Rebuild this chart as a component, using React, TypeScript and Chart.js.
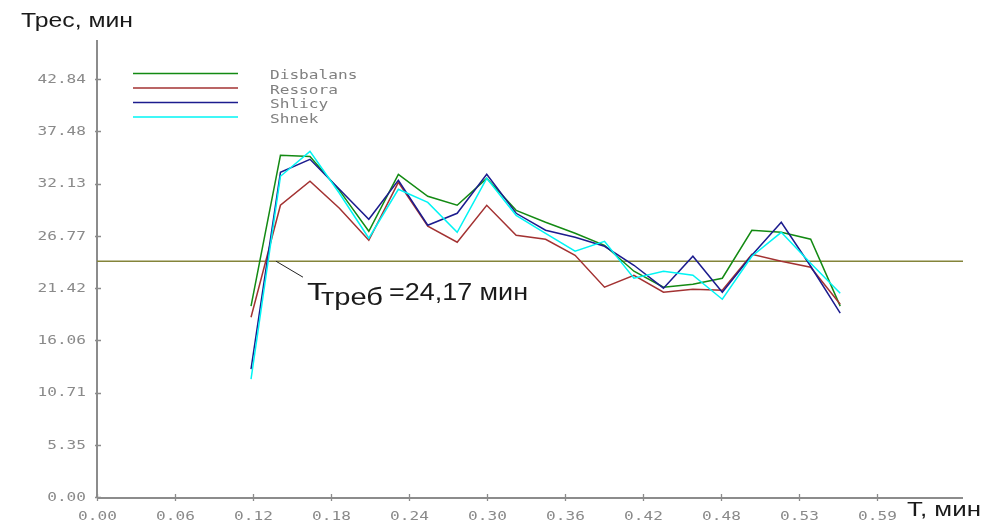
import React, { useEffect, useRef } from 'react';
import { Chart, registerables } from 'chart.js';

Chart.register(...registerables);

const seriesNames = ['Disbalans', 'Ressora', 'Shlicy', 'Shnek'];
const seriesColors = ['#138a13', '#a33232', '#1c1c8e', '#00f4f4'];

const timePoints = [
  0.1173, 0.1397, 0.1622, 0.1846, 0.207, 0.2295, 0.2519, 0.2743, 0.2968, 0.3192, 0.3416,
  0.3641, 0.3865, 0.4089, 0.4314, 0.4538, 0.4762, 0.4987, 0.5211, 0.5435, 0.566,
];

const disbalans = [
  19.56, 35.02, 34.91, 31.43, 27.24, 33.07, 30.82, 29.9, 32.66, 29.38, 28.16,
  27.03, 25.8, 23.14, 21.5, 21.81, 22.42, 27.34, 27.13, 26.42, 19.56,
];
const ressora = [
  18.43, 29.9, 32.36, 29.59, 26.31, 32.25, 27.75, 26.11, 29.9, 26.83, 26.42,
  24.78, 21.5, 22.73, 20.99, 21.3, 21.19, 24.88, 24.16, 23.55, 19.76,
];
const shlicy = [
  13.11, 33.28, 34.61, 31.54, 28.46, 32.46, 27.85, 29.08, 33.07, 29.08, 27.34,
  26.62, 25.7, 23.75, 21.4, 24.68, 20.99, 24.78, 28.16, 23.65, 18.84,
];
const shnek = [
  12.08, 32.87, 35.43, 31.13, 26.52, 31.54, 30.2, 27.13, 32.66, 28.87, 27.03,
  25.19, 26.21, 22.42, 23.14, 22.73, 20.27, 24.68, 27.13, 23.96, 20.89,
];
const seriesValues = [disbalans, ressora, shlicy, shnek];

const yTickValues = [0, 5.35, 10.71, 16.06, 21.42, 26.77, 32.13, 37.48, 42.84];
const yTickLabels = ['0.00', '5.35', '10.71', '16.06', '21.42', '26.77', '32.13', '37.48', '42.84'];
const xTickStep = 0.0594;
const xTickLabels = ['0.00', '0.06', '0.12', '0.18', '0.24', '0.30', '0.36', '0.42', '0.48', '0.53', '0.59'];
const xAxisMax = 0.6595;
const yAxisMax = 46.84;

const requiredTime = 24.17;
const requiredMain = 'T';
const requiredSub = 'треб';
const requiredRest = '=24,17 мин';
const requiredLeaderX = 0.1363;
const yTitle = 'Трес, мин';
const xTitle = 'T, мин';

const TICK_FONT = '13px "DejaVu Sans Mono"';
const TICK_SX = 1.24;

function drawStretched(ctx: CanvasRenderingContext2D, text: string, x: number, y: number, sx: number, align: CanvasTextAlign) {
  ctx.save();
  ctx.translate(x, y);
  ctx.scale(sx, 1);
  ctx.textAlign = align;
  ctx.fillText(text, 0, 0);
  ctx.restore();
}

function fitText(ctx: CanvasRenderingContext2D, text: string, x: number, y: number, width: number) {
  const w = ctx.measureText(text).width;
  drawStretched(ctx, text, x, y, width / w, 'left');
}

const decorPlugin = {
  id: 'decor',
  beforeDatasetsDraw(chart: any) {
    const ctx: CanvasRenderingContext2D = chart.ctx;
    const a = chart.chartArea;
    const xs = chart.scales.x;
    const ys = chart.scales.y;
    ctx.save();
    ctx.strokeStyle = '#8c8c8c';
    ctx.lineWidth = 2;
    ctx.beginPath();
    ctx.moveTo(a.left, a.top);
    ctx.lineTo(a.left, a.bottom + 1);
    ctx.moveTo(a.left, a.bottom + 1);
    ctx.lineTo(a.right, a.bottom + 1);
    ctx.stroke();
    ctx.lineWidth = 1.3;
    ctx.beginPath();
    yTickValues.forEach((v) => {
      const py = Math.round(ys.getPixelForValue(v)) + 0.5;
      ctx.moveTo(a.left - 2, py);
      ctx.lineTo(a.left + 4, py);
    });
    xTickLabels.forEach((_, i) => {
      const px = Math.round(xs.getPixelForValue(i * xTickStep)) + 0.5;
      ctx.moveTo(px, a.bottom - 3);
      ctx.lineTo(px, a.bottom + 4);
    });
    ctx.stroke();
    ctx.restore();
  },
  afterDraw(chart: any) {
    const ctx: CanvasRenderingContext2D = chart.ctx;
    const a = chart.chartArea;
    const xs = chart.scales.x;
    const ys = chart.scales.y;
    ctx.save();
    // tick labels
    ctx.font = TICK_FONT;
    ctx.fillStyle = '#8a8a8a';
    ctx.textBaseline = 'middle';
    yTickValues.forEach((v, i) => {
      drawStretched(ctx, yTickLabels[i], a.left - 11, ys.getPixelForValue(v) + 0.5, TICK_SX, 'right');
    });
    xTickLabels.forEach((lab, i) => {
      drawStretched(ctx, lab, xs.getPixelForValue(i * xTickStep) + 0.5, a.bottom + 19.5, TICK_SX, 'center');
    });
    // legend
    const ds = chart.data.datasets.slice(0, seriesNames.length);
    ds.forEach((d: any, i: number) => {
      const ly = 73.5 + i * 14.5;
      ctx.strokeStyle = d.borderColor;
      ctx.lineWidth = 1.5;
      ctx.beginPath();
      ctx.moveTo(133, ly);
      ctx.lineTo(238, ly);
      ctx.stroke();
      ctx.fillStyle = '#808080';
      drawStretched(ctx, d.label, 270, ly + 2.5, TICK_SX, 'left');
    });
    // titles
    ctx.fillStyle = '#1a1a1a';
    ctx.textBaseline = 'alphabetic';
    ctx.font = '20px "Liberation Sans", Arial, sans-serif';
    fitText(ctx, yTitle, 21, 27, 112);
    fitText(ctx, xTitle, 907, 516, 74);
    // required-time annotation
    const ax = xs.getPixelForValue(requiredLeaderX);
    const ay = ys.getPixelForValue(requiredTime);
    ctx.strokeStyle = '#222';
    ctx.lineWidth = 1;
    ctx.beginPath();
    ctx.moveTo(ax, ay);
    ctx.lineTo(ax + 27, ay + 16);
    ctx.stroke();
    ctx.font = '24px "Liberation Sans", Arial, sans-serif';
    fitText(ctx, requiredMain, 307, 300, 20);
    fitText(ctx, requiredSub, 321, 305, 62);
    fitText(ctx, requiredRest, 389, 300, 139);
    ctx.restore();
  },
};

export default function App() {
  const canvasRef = useRef<HTMLCanvasElement | null>(null);

  useEffect(() => {
    const canvas = canvasRef.current;
    if (!canvas) return;
    const datasets: any[] = seriesNames.map((name, s) => ({
      label: name,
      data: timePoints.map((t, i) => ({ x: t, y: seriesValues[s][i] })),
      borderColor: seriesColors[s],
      backgroundColor: seriesColors[s],
      borderWidth: 1.5,
      pointRadius: 0,
      tension: 0,
      fill: false,
      order: seriesNames.length - s,
    }));
    datasets.push({
      label: 'required',
      data: [
        { x: 0, y: requiredTime },
        { x: xAxisMax, y: requiredTime },
      ],
      borderColor: '#84843a',
      borderWidth: 1.5,
      pointRadius: 0,
      fill: false,
      order: 20,
    });
    const chart = new Chart(canvas, {
      type: 'line',
      data: { datasets },
      options: {
        animation: false,
        responsive: false,
        devicePixelRatio: 1,
        layout: { padding: { left: 0, right: 39, top: 40, bottom: 0 } },
        plugins: { legend: { display: false }, tooltip: { enabled: false } },
        scales: {
          x: {
            type: 'linear',
            min: 0,
            max: xAxisMax,
            grid: { display: false },
            border: { display: false },
            ticks: { display: false },
            afterBuildTicks: (s: any) => {
              s.ticks = xTickLabels.map((_, i) => ({ value: i * xTickStep }));
            },
            afterFit: (s: any) => {
              s.height = 26;
            },
          },
          y: {
            type: 'linear',
            min: 0,
            max: yAxisMax,
            grid: { display: false },
            border: { display: false },
            ticks: { display: false },
            afterBuildTicks: (s: any) => {
              s.ticks = yTickValues.map((v) => ({ value: v }));
            },
            afterFit: (s: any) => {
              s.width = 97;
            },
          },
        },
      },
      plugins: [decorPlugin],
    });
    return () => chart.destroy();
  }, []);

  return (
    <div style={{ position: 'fixed', left: 0, top: 0, width: 1002, height: 523, background: '#fff' }}>
      <canvas ref={canvasRef} width={1002} height={523} style={{ display: 'block' }} />
    </div>
  );
}
